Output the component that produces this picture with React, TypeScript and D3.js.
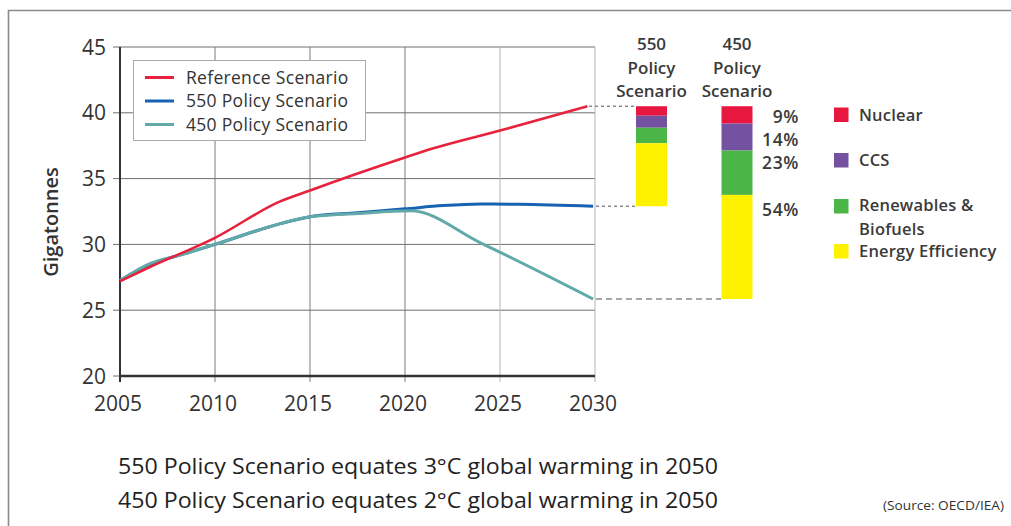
import React from "react";
import * as d3 from "d3";

const W = 1011;
const H = 526;

// Line series (year, Gt CO2)
const refYears = [2005, 2006.6, 2010, 2013.4, 2015, 2020, 2021.5, 2025, 2029.6];
const refValues = [27.2, 28.3, 30.5, 33.25, 34.1, 36.6, 37.3, 38.65, 40.5];

const p550Years = [2005, 2006.6, 2008.2, 2010, 2013.5, 2015, 2017.5, 2020, 2022, 2024, 2026, 2029.9];
const p550Values = [27.25, 28.5, 29.2, 30.0, 31.6, 32.1, 32.4, 32.7, 32.95, 33.07, 33.05, 32.9];

const p450Years = [2005, 2006.6, 2008.2, 2010, 2013.5, 2015, 2017.5, 2020.3, 2024, 2029.9];
const p450Values = [27.25, 28.55, 29.2, 30.0, 31.6, 32.1, 32.35, 32.55, 30.1, 25.85];

const seriesNames = ["Reference Scenario", "550 Policy Scenario", "450 Policy Scenario"];
const seriesColors = ["#e8213c", "#1762b3", "#62a9aa"];

const xTicks = [2005, 2010, 2015, 2020, 2025, 2030];
const yTicks = [20, 25, 30, 35, 40, 45];

// Stacked abatement bars
const barScenarios = ["550", "450"];
const barTop = 40.5;
const barBottoms = [32.9, 25.85];
const wedgeNames = ["Nuclear", "CCS", "Renewables & Biofuels", "Energy Efficiency"];
const wedgeLabelLines = [["Nuclear"], ["CCS"], ["Renewables &", "Biofuels"], ["Energy Efficiency"]];
const wedgeColors = ["#e8173f", "#7452a1", "#4cb548", "#fff200"];
const share550 = [9.5, 12, 15.5, 63];
const share450 = [9, 14, 23, 54];
const shareLabels = ["9%", "14%", "23%", "54%"];

const noteLines = [
  "550 Policy Scenario equates 3°C global warming in 2050",
  "450 Policy Scenario equates 2°C global warming in 2050",
];
const sourceText = "(Source: OECD/IEA)";

const FONT = "'Open Sans', 'Noto Sans', sans-serif";

export default function App() {
  const x = d3.scaleLinear().domain([2005, 2030]).range([120, 595]);
  const y = d3.scaleLinear().domain([20, 45]).range([376, 47]);
  const line = d3
    .line<[number, number]>()
    .x((d) => x(d[0]))
    .y((d) => y(d[1]))
    .curve(d3.curveMonotoneX);

  const seriesData: [number, number][][] = [
    refYears.map((yr, i) => [yr, refValues[i]]),
    p550Years.map((yr, i) => [yr, p550Values[i]]),
    p450Years.map((yr, i) => [yr, p450Values[i]]),
  ];

  const bx = d3.scalePoint<string>().domain(barScenarios).range([651.5, 737]);
  const bw = 31;
  const shares = [share550, share450];

  const bars = barScenarios.map((s, si) => {
    const total = barTop - barBottoms[si];
    let acc = barTop;
    return shares[si].map((p, wi) => {
      const top = acc;
      const bot = acc - (total * p) / 100;
      acc = bot;
      return { s, wi, top, bot };
    });
  });

  // label positions for 450 segments
  const labelYs = [116.5, 139.5, 162.5, 209.5];
  const legendYs = [107.5, 153, 199, 244];
  const legendTextYs = [[115], [160.5], [205.2, 228.6], [251.3]];

  return (
    <svg
      width={W}
      height={H}
      style={{ position: "absolute", left: 0, top: 0, background: "#fff" }}
    >
      <rect x={0} y={0} width={W} height={H} fill="#fff" />
      {/* frame */}
      <path d={`M8.5,${H} V10.5 H${W}`} fill="none" stroke="#8a8a8a" strokeWidth={1.6} />

      {/* horizontal grid */}
      {yTicks.map((t) => (
        <line key={"h" + t} x1={113} x2={595} y1={y(t)} y2={y(t)} stroke="#6f6f6f" strokeWidth={1} />
      ))}
      {/* vertical grid */}
      {xTicks.map((t) => (
        <line
          key={"v" + t}
          x1={x(t)}
          x2={x(t)}
          y1={y(45)}
          y2={y(20) + 6}
          stroke={t >= 2025 ? "#b5b5b5" : "#7a7a7a"}
          strokeWidth={1}
        />
      ))}
      {/* axes */}
      <line x1={120} x2={120} y1={y(45)} y2={y(20) + 6} stroke="#333" strokeWidth={2} />
      <line x1={119} x2={595} y1={y(20)} y2={y(20)} stroke="#333" strokeWidth={2.5} />

      {/* tick labels */}
      {yTicks.map((t) => (
        <text
          key={"yl" + t}
          x={106}
          y={y(t)}
          dy="0.36em"
          textAnchor="end"
          fontFamily={FONT}
          fontSize={21}
          fill="#333"
        >
          {t}
        </text>
      ))}
      {xTicks.map((t) => (
        <text
          key={"xl" + t}
          x={x(t) - 2}
          y={403}
          dy="0.36em"
          textAnchor="middle"
          fontFamily={FONT}
          fontSize={21}
          fill="#333"
        >
          {t}
        </text>
      ))}
      <text
        transform="translate(51,222) rotate(-90)"
        textAnchor="middle"
        dy="0.36em"
        fontFamily={FONT}
        fontSize={20}
        fontWeight={600}
        fill="#333"
      >
        Gigatonnes
      </text>

      {/* lines: 550 below 450, reference on top */}
      <path d={line(seriesData[1]) || ""} fill="none" stroke={seriesColors[1]} strokeWidth={3} />
      <path d={line(seriesData[2]) || ""} fill="none" stroke={seriesColors[2]} strokeWidth={3} />
      <path d={line(seriesData[0]) || ""} fill="none" stroke={seriesColors[0]} strokeWidth={2.6} />

      {/* legend */}
      <rect x={133.5} y={60.5} width={232} height={80} fill="#fff" stroke="#aaa" strokeWidth={1} />
      {seriesNames.map((n, i) => (
        <g key={n}>
          <line
            x1={145}
            x2={174}
            y1={77.5 + i * 23.5}
            y2={77.5 + i * 23.5}
            stroke={seriesColors[i]}
            strokeWidth={3}
          />
          <text
            x={186}
            y={77.5 + i * 23.5}
            dy="0.36em"
            fontFamily={FONT}
            fontSize={17.5}
            letterSpacing={0.3}
            fill="#333"
          >
            {n}
          </text>
        </g>
      ))}

      {/* connectors */}
      <line x1={589} x2={636} y1={y(barTop)} y2={y(barTop)} stroke="#8a8a8a" strokeWidth={1.5} strokeDasharray="3,3" />
      <line x1={596} x2={636} y1={y(barBottoms[0])} y2={y(barBottoms[0])} stroke="#8a8a8a" strokeWidth={1.5} strokeDasharray="3,3" />
      <line x1={596} x2={721} y1={y(barBottoms[1])} y2={y(barBottoms[1])} stroke="#8a8a8a" strokeWidth={1.5} strokeDasharray="6,4" />

      {/* bars */}
      {bars.map((segs, si) =>
        segs.map((sg) => (
          <rect
            key={si + "-" + sg.wi}
            x={(bx(sg.s) as number) - bw / 2}
            y={y(sg.top)}
            width={bw}
            height={y(sg.bot) - y(sg.top)}
            fill={wedgeColors[sg.wi]}
          />
        ))
      )}

      {/* bar headers */}
      {barScenarios.map((s) => (
        <g key={"hd" + s} fontFamily={FONT} fontSize={17} fontWeight={600} fill="#3a3a3a" textAnchor="middle">
          <text x={bx(s)} y={44} dy="0.36em">{s}</text>
          <text x={bx(s)} y={67.5} dy="0.36em">Policy</text>
          <text x={bx(s)} y={91} dy="0.36em">Scenario</text>
        </g>
      ))}

      {/* percentages */}
      {shareLabels.map((l, i) => (
        <text
          key={"pl" + i}
          x={799}
          y={labelYs[i]}
          dy="0.36em"
          textAnchor="end"
          fontFamily={FONT}
          fontSize={17.5}
          fontWeight={600}
          letterSpacing={0.6}
          fill="#3a3a3a"
        >
          {l}
        </text>
      ))}

      {/* wedge legend */}
      {wedgeNames.map((name, i) => (
        <g key={name}>
          <rect x={834} y={legendYs[i]} width={14.5} height={14.5} fill={wedgeColors[i]} />
          {wedgeLabelLines[i].map((ln, j) => (
            <text
              key={ln}
              x={859}
              y={legendTextYs[i][j]}
              dy="0.36em"
              fontFamily={FONT}
              fontSize={16.5}
              fontWeight={600}
              letterSpacing={0.2}
              fill="#3a3a3a"
            >
              {ln}
            </text>
          ))}
        </g>
      ))}

      {/* notes */}
      {noteLines.map((t, i) => (
        <text
          key={"n" + i}
          x={118}
          y={473.5 + i * 34}
          fontFamily={FONT}
          fontSize={21.5}
          fill="#222"
          textLength={600}
          lengthAdjust="spacingAndGlyphs"
        >
          {t}
        </text>
      ))}
      <text
        x={1004}
        y={510}
        textAnchor="end"
        fontFamily={FONT}
        fontSize={12}
        fill="#333"
        textLength={121}
        lengthAdjust="spacingAndGlyphs"
      >
        {sourceText}
      </text>
    </svg>
  );
}
